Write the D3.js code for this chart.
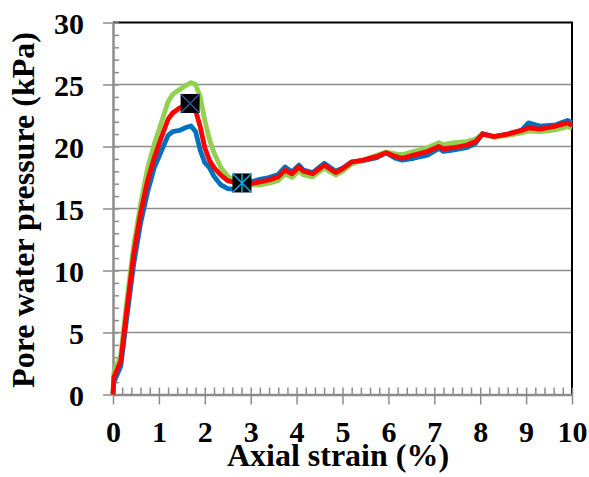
<!DOCTYPE html>
<html>
<head>
<meta charset="utf-8">
<script src="https://cdn.jsdelivr.net/npm/d3@7"></script>
<style>
  html, body { margin: 0; padding: 0; background: #fff; }
  svg { display: block; }
  text { font-family: "Liberation Serif", "Times New Roman", serif; font-weight: bold; fill: #000; }
</style>
</head>
<body>
<svg id="chart" width="589" height="477"></svg>
<script>
// Axial strain (%) sampling points shared by the three tests
const strain = [0, 0.02, 0.17, 0.3, 0.45, 0.6, 0.75, 0.9, 1.05, 1.2, 1.3, 1.45, 1.6, 1.7, 1.8, 1.9, 2.0, 2.1, 2.2, 2.35, 2.5, 2.65, 2.8, 3.0, 3.2, 3.4, 3.6, 3.75, 3.9, 4.05, 4.15, 4.35, 4.6, 4.85, 5.0, 5.2, 5.45, 5.75, 5.95, 6.15, 6.3, 6.55, 6.85, 7.1, 7.2, 7.4, 7.7, 7.9, 8.05, 8.3, 8.6, 8.9, 9.05, 9.3, 9.65, 9.9, 10.0];

// Pore water pressure (kPa) for each test
const seriesBlue = [0, 1.0, 2.3, 6.2, 10.5, 13.8, 16.3, 18.3, 19.6, 20.9, 21.2, 21.3, 21.55, 21.65, 21.2, 19.7, 18.7, 18.3, 17.6, 16.9, 16.6, 16.55, 16.7, 17.15, 17.35, 17.5, 17.75, 18.35, 17.95, 18.5, 18.1, 17.9, 18.65, 18.0, 18.25, 18.75, 18.85, 19.1, 19.5, 19.05, 18.9, 19.05, 19.3, 19.85, 19.6, 19.7, 19.9, 20.25, 21.05, 20.8, 21.0, 21.3, 21.9, 21.65, 21.75, 22.1, 21.9];
const seriesGreen = [0, 1.8, 3.2, 7.5, 12.0, 15.3, 18.2, 20.2, 21.9, 23.6, 24.2, 24.6, 24.95, 25.15, 25.0, 24.0, 22.1, 20.6, 19.5, 18.3, 17.6, 17.2, 17.0, 16.9, 16.9, 17.05, 17.25, 17.8, 17.5, 18.05, 17.7, 17.55, 18.25, 17.7, 18.0, 18.6, 18.9, 19.3, 19.55, 19.4, 19.35, 19.6, 19.9, 20.3, 20.15, 20.3, 20.4, 20.6, 21.0, 20.75, 20.9, 21.1, 21.25, 21.2, 21.35, 21.6, 21.5];
const seriesRed = [0, 1.4, 2.7, 6.8, 11.3, 14.6, 17.2, 19.1, 20.7, 22.2, 22.7, 23.1, 23.4, 23.5, 22.9, 21.6, 19.9, 18.9, 18.3, 17.7, 17.25, 17.1, 17.05, 17.0, 17.15, 17.3, 17.55, 18.1, 17.8, 18.35, 18.0, 17.8, 18.5, 17.9, 18.2, 18.75, 18.9, 19.2, 19.5, 19.2, 19.05, 19.3, 19.6, 20.0, 19.8, 19.9, 20.1, 20.4, 21.0, 20.8, 21.0, 21.3, 21.5, 21.4, 21.65, 21.9, 21.7];

// Peak and post-peak points marked on the red test
const peakPoint = [1.68, 23.47];
const residualPoint = [2.81, 17.06];

const xTicks = [0, 1, 2, 3, 4, 5, 6, 7, 8, 9, 10];
const yTicks = [0, 5, 10, 15, 20, 25, 30];

const svg = d3.select("#chart");
const plotLeft = 113, plotRight = 572, plotTop = 22.5, plotBottom = 394.5;

const x = d3.scaleLinear().domain([0, 10]).range([plotLeft, plotRight]);
const y = d3.scaleLinear().domain([0, 30]).range([plotBottom, plotTop]);

const gray = "#8c8c8c";
const tickFont = 30, titleFont = 32;

// horizontal gridlines
svg.append("g")
  .selectAll("line")
  .data(yTicks.filter(v => v > 0 && v < 30))
  .join("line")
  .attr("x1", plotLeft).attr("x2", plotRight)
  .attr("y1", d => y(d)).attr("y2", d => y(d))
  .attr("stroke", gray).attr("stroke-width", 1.5);

// frame: top and right in black
svg.append("path")
  .attr("d", `M${plotLeft},${plotTop}H${plotRight}V${plotBottom}`)
  .attr("fill", "none").attr("stroke", "#000").attr("stroke-width", 2);

// x axis: major ticks outward, minor ticks inward
const xMinor = d3.range(0, 10.001, 0.2);
const xAxis = svg.append("g").attr("transform", `translate(0,${plotBottom})`);
xAxis.append("g")
  .call(d3.axisBottom(x).tickValues(xMinor).tickSize(-7).tickFormat(""))
  .call(g => g.select(".domain").remove())
  .call(g => g.selectAll("line").attr("stroke", gray).attr("stroke-width", 1.5));
xAxis.append("g")
  .call(d3.axisBottom(x).tickValues(xTicks).tickSizeInner(10).tickSizeOuter(0).tickPadding(16))
  .call(g => g.select(".domain").attr("stroke", gray).attr("stroke-width", 2.5))
  .call(g => g.selectAll("line").attr("stroke", gray).attr("stroke-width", 1.5))
  .call(g => g.selectAll("text").attr("font-size", tickFont).attr("dy", "0.71em"));

// y axis: major ticks outward, minor ticks inward
const yMinor = d3.range(0, 30.001, 1);
const yAxis = svg.append("g").attr("transform", `translate(${plotLeft},0)`);
yAxis.append("g")
  .call(d3.axisLeft(y).tickValues(yMinor).tickSize(-6).tickFormat(""))
  .call(g => g.select(".domain").remove())
  .call(g => g.selectAll("line").attr("stroke", gray).attr("stroke-width", 1.5));
yAxis.append("g")
  .call(d3.axisLeft(y).tickValues(yTicks).tickSizeInner(10).tickSizeOuter(0).tickPadding(19))
  .call(g => g.select(".domain").attr("stroke", gray).attr("stroke-width", 2.5))
  .call(g => g.selectAll("line").attr("stroke", gray).attr("stroke-width", 1.5))
  .call(g => g.selectAll("text").attr("font-size", tickFont).attr("dy", "0.36em"));

// curves
const line = d3.line().x((d, i) => x(strain[i])).y(d => y(d)).curve(d3.curveLinear);
const curves = [
  { values: seriesBlue, color: "#0070c0" },
  { values: seriesGreen, color: "#92d050" },
  { values: seriesRed, color: "#ff0000" }
];
svg.append("g")
  .selectAll("path")
  .data(curves)
  .join("path")
  .attr("d", d => line(d.values))
  .attr("fill", "none")
  .attr("stroke", d => d.color)
  .attr("stroke-width", 4.8)
  .attr("stroke-linejoin", "round");

// markers
const ms = 9.5;
const peak = svg.append("g").attr("transform", `translate(${x(peakPoint[0])},${y(peakPoint[1])})`);
peak.append("rect").attr("x", -ms).attr("y", -ms).attr("width", 2 * ms).attr("height", 2 * ms).attr("fill", "#000");
peak.append("path").attr("d", `M${-ms},${-ms}L${ms},${ms}M${-ms},${ms}L${ms},${-ms}`)
  .attr("stroke", "#2f5597").attr("stroke-width", 1.5);

const resid = svg.append("g").attr("transform", `translate(${x(residualPoint[0])},${y(residualPoint[1])})`);
resid.append("rect").attr("x", -ms).attr("y", -ms).attr("width", 2 * ms).attr("height", 2 * ms).attr("fill", "#000");
resid.append("path").attr("d", `M${-ms},${-ms}L${ms},${ms}M${-ms},${ms}L${ms},${-ms}M0,${-ms}V${ms}`)
  .attr("stroke", "#00b0f0").attr("stroke-width", 1.5);

// axis titles
svg.append("text")
  .attr("x", 338).attr("y", 466)
  .attr("text-anchor", "middle").attr("font-size", titleFont)
  .text("Axial strain (%)");

svg.append("text")
  .attr("transform", `translate(34,210) rotate(-90)`)
  .attr("text-anchor", "middle").attr("font-size", titleFont)
  .text("Pore water pressure (kPa)");
</script>
</body>
</html>
